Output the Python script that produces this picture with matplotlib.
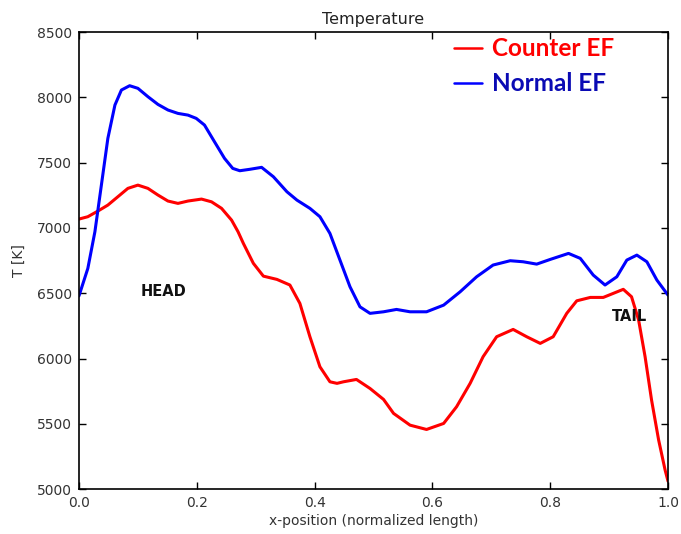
import matplotlib
matplotlib.use("Agg")
import matplotlib.pyplot as plt

# Normal EF (blue) series
x_normal = [0.000, 0.015, 0.027, 0.038, 0.049, 0.061, 0.072, 0.086, 0.100, 0.117,
            0.134, 0.151, 0.168, 0.185, 0.199, 0.213, 0.230, 0.247, 0.261, 0.273,
            0.290, 0.310, 0.330, 0.353, 0.370, 0.392, 0.409, 0.426, 0.443, 0.460,
            0.477, 0.494, 0.517, 0.539, 0.562, 0.590, 0.619, 0.647, 0.675, 0.703,
            0.732, 0.754, 0.777, 0.800, 0.831, 0.851, 0.873, 0.893, 0.913, 0.930,
            0.947, 0.964, 0.981, 1.000]
t_normal = [6480, 6690, 6971, 7328, 7686, 7941, 8056, 8089, 8069, 8005,
            7946, 7903, 7877, 7864, 7839, 7788, 7660, 7533, 7456, 7438,
            7449, 7464, 7392, 7277, 7213, 7150, 7086, 6958, 6754, 6550,
            6396, 6346, 6358, 6376, 6358, 6358, 6409, 6511, 6626, 6716,
            6749, 6741, 6723, 6759, 6805, 6767, 6639, 6563, 6626, 6754,
            6792, 6741, 6601, 6485]

# Counter EF (red) series
x_counter = [0.000, 0.015, 0.032, 0.049, 0.066, 0.083, 0.100, 0.117, 0.134, 0.151,
             0.168, 0.185, 0.208, 0.225, 0.242, 0.259, 0.270, 0.279, 0.296, 0.313,
             0.336, 0.358, 0.375, 0.392, 0.409, 0.426, 0.438, 0.449, 0.471, 0.494,
             0.517, 0.534, 0.562, 0.590, 0.619, 0.641, 0.664, 0.686, 0.709, 0.737,
             0.760, 0.783, 0.805, 0.828, 0.845, 0.868, 0.890, 0.907, 0.924, 0.938,
             0.950, 0.961, 0.972, 0.984, 0.995, 1.000]
t_counter = [7068, 7086, 7129, 7175, 7239, 7303, 7328, 7303, 7252, 7206,
             7188, 7206, 7221, 7200, 7150, 7060, 6971, 6882, 6729, 6631,
             6606, 6563, 6422, 6167, 5937, 5822, 5810, 5822, 5840, 5771,
             5687, 5580, 5490, 5457, 5503, 5631, 5810, 6014, 6167, 6223,
             6167, 6116, 6167, 6346, 6442, 6468, 6468, 6499, 6530, 6473,
             6295, 6014, 5682, 5376, 5146, 5060]

x_ticks = [0.0, 0.2, 0.4, 0.6, 0.8, 1.0]
y_ticks = [5000, 5500, 6000, 6500, 7000, 7500, 8000, 8500]

fig = plt.figure(figsize=(6.81, 5.34), dpi=100)
ax = fig.add_axes([0.116, 0.084, 0.865, 0.856])

ln_c, = ax.plot(x_counter, t_counter, color="#ff0000", lw=2.2,
                solid_joinstyle="round", solid_capstyle="round")
ln_n, = ax.plot(x_normal, t_normal, color="#0000ff", lw=2.2,
                solid_joinstyle="round", solid_capstyle="round")

ax.set_xlim(0, 1)
ax.set_ylim(5000, 8500)
ax.set_xticks(x_ticks)
ax.set_xticklabels([f"{v:.1f}" for v in x_ticks])
ax.set_yticks(y_ticks)
ax.set_yticklabels([str(v) for v in y_ticks])
ax.tick_params(direction="in", top=True, right=True, length=5, width=1,
               labelsize=10, labelcolor="#333333", pad=5)
for s in ax.spines.values():
    s.set_linewidth(1.2)

ax.set_title("Temperature", fontsize=11.5, color="#222222", pad=6)
ax.set_xlabel("x-position (normalized length)", fontsize=10, color="#333333", labelpad=3)
ax.set_ylabel("T [K]", fontsize=10, color="#333333", labelpad=8)

ax.text(0.143, 6510, "HEAD", fontsize=10.5, fontweight="bold", ha="center", va="center",
        color="#111111")
ax.text(0.935, 6325, "TAIL", fontsize=10.5, fontweight="bold", ha="center", va="center",
        color="#111111")

leg = ax.legend([ln_c, ln_n], ["Counter EF", "Normal EF"],
                loc="upper left", bbox_to_anchor=(0.6, 1.036), frameon=False,
                prop={"family": "Lato", "weight": "bold", "size": 17.5},
                handlelength=1.15, handletextpad=0.42, labelspacing=0.48,
                labelcolor=["#ff0000", "#0a0ab4"])
for h in leg.legend_handles:
    h.set_linewidth(1.8)

fig.savefig("out.png", dpi=100)
